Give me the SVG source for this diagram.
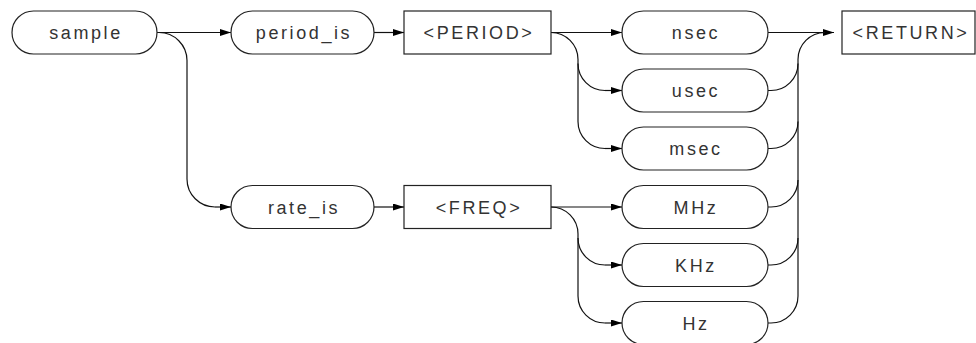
<svg xmlns="http://www.w3.org/2000/svg" width="976" height="343" viewBox="0 0 976 343">
<defs>
<marker id="ah" markerUnits="userSpaceOnUse" markerWidth="11" markerHeight="7" refX="11" refY="3.5" orient="auto">
<path d="M0,0 L11,3.5 L0,7 z" fill="#000"/>
</marker>
<style>
.n{fill:#fff;stroke:#222;stroke-width:1.2}
.t{font-family:"Liberation Sans",Arial,sans-serif;font-size:18px;letter-spacing:2.6px;fill:#333;text-anchor:middle}
.c{fill:none;stroke:#111;stroke-width:1.2}
.a{marker-end:url(#ah)}
</style>
</defs>
<rect width="976" height="343" fill="#fff"/>
<g id="connectors">
<path class="c a" d="M157,32.5 H231"/>
<path class="c" d="M159,32.5 A28,28 0 0 1 187,60.5 V179 A28,28 0 0 0 215,207"/>
<path class="c a" d="M215,207 H231"/>
<path class="c a" d="M374,32.5 H404"/>
<path class="c a" d="M374,207 H404"/>
<path class="c a" d="M551,32.5 H622"/>
<path class="c" d="M551,32.5 A27,27 0 0 1 578,59.5 V121.5 A27,27 0 0 0 605,148.5"/>
<path class="c a" d="M605,148.5 H622"/>
<path class="c" d="M578,63.5 A27,27 0 0 0 605,90.5"/>
<path class="c a" d="M605,90.5 H622"/>
<path class="c a" d="M551,207 H622"/>
<path class="c" d="M551,207 A27,27 0 0 1 578,234 V296 A27,27 0 0 0 605,323"/>
<path class="c a" d="M605,323 H622"/>
<path class="c" d="M578,238 A27,27 0 0 0 605,265"/>
<path class="c a" d="M605,265 H622"/>
<path class="c a" d="M768,32.5 H834"/>
<path class="c" d="M768,323 H771 A27,27 0 0 0 798,296 V59.5 A27,27 0 0 1 825,32.5"/>
<path class="c" d="M768,90.5 H771 A27,27 0 0 0 798,63.5"/>
<path class="c" d="M768,148.5 H771 A27,27 0 0 0 798,121.5"/>
<path class="c" d="M768,207 H771 A27,27 0 0 0 798,180"/>
<path class="c" d="M768,265 H771 A27,27 0 0 0 798,238"/>
</g>
<g id="sample"><rect class="n" x="12" y="11" width="145" height="43" rx="21.5"/><text class="t" x="86" y="39">sample</text></g>
<g id="period_is"><rect class="n" x="231" y="11" width="143" height="43" rx="21.5"/><text class="t" x="304" y="39">period_is</text></g>
<g id="rate_is"><rect class="n" x="231" y="185.5" width="143" height="43" rx="21.5"/><text class="t" x="304" y="213.5">rate_is</text></g>
<g id="PERIOD"><rect class="n" x="404" y="11" width="147" height="43"/><text class="t" x="479" y="39">&lt;PERIOD&gt;</text></g>
<g id="FREQ"><rect class="n" x="404" y="185.5" width="147" height="43"/><text class="t" x="479" y="213.5">&lt;FREQ&gt;</text></g>
<g id="nsec"><rect class="n" x="622" y="11" width="146" height="43" rx="21.5"/><text class="t" x="696" y="39">nsec</text></g>
<g id="usec"><rect class="n" x="622" y="69" width="146" height="43" rx="21.5"/><text class="t" x="696" y="97">usec</text></g>
<g id="msec"><rect class="n" x="622" y="127" width="146" height="43" rx="21.5"/><text class="t" x="696" y="155">msec</text></g>
<g id="MHz"><rect class="n" x="622" y="185.5" width="146" height="43" rx="21.5"/><text class="t" x="696" y="213.5">MHz</text></g>
<g id="KHz"><rect class="n" x="622" y="243.5" width="146" height="43" rx="21.5"/><text class="t" x="696" y="271.5">KHz</text></g>
<g id="Hz"><rect class="n" x="622" y="301.5" width="146" height="43" rx="21.5"/><text class="t" x="696" y="329.5">Hz</text></g>
<g id="RETURN"><rect class="n" x="842" y="11" width="133" height="43"/><text class="t" x="911" y="39">&lt;RETURN&gt;</text></g>
</svg>
